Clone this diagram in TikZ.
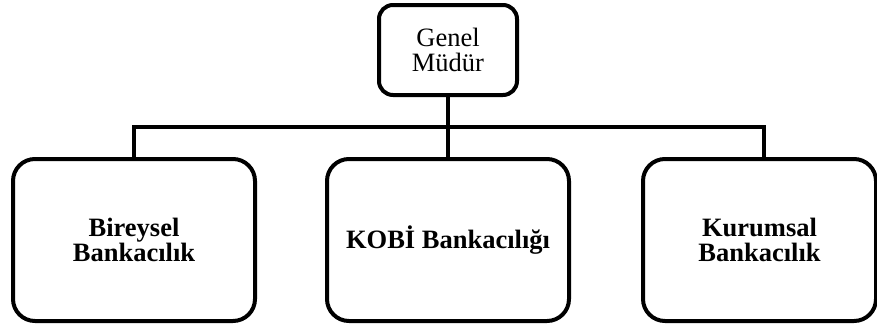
\documentclass[tikz,border=0pt]{standalone}
\usepackage{fontspec}
\setmainfont{Liberation Serif}
\begin{document}
\begin{tikzpicture}[x=1pt,y=-1pt,
  unitbox/.style={draw, line width=4pt, align=center, inner sep=0pt,
    font=\fontsize{26.5}{25.5}\selectfont},
  headbox/.style={unitbox, rounded corners=14pt, minimum width=138pt, minimum height=90pt},
  deptbox/.style={unitbox, rounded corners=22pt, minimum height=162pt,
    font=\fontsize{26.5}{25.5}\selectfont\bfseries},
  link/.style={line width=4pt}]
\useasboundingbox (0,0) rectangle (877,325);

% head of the organisation
\node[headbox] (gm) at (448,50) {Genel\\Müdür};

% departments
\node[deptbox, minimum width=242pt] (bir) at (134,240) {Bireysel\\Bankacılık};
\node[deptbox, minimum width=242pt] (kobi) at (448,240) {KOBİ Bankacılığı};
\node[deptbox, minimum width=233pt] (kur) at (759.5,240) {Kurumsal\\Bankacılık};

% horizontal bus
\coordinate (busL) at (134,127);
\coordinate (busR) at (764,127);
\draw[link, line cap=rect] (busL) -- (busR);

% connectors
\draw[link] (gm.south) -- (gm.south |- busL);
\draw[link] (busL) -- (bir.north);
\draw[link] (kobi.north |- busL) -- (kobi.north);
\draw[link] (busR) -- (busR |- kur.north);
\end{tikzpicture}
\end{document}
